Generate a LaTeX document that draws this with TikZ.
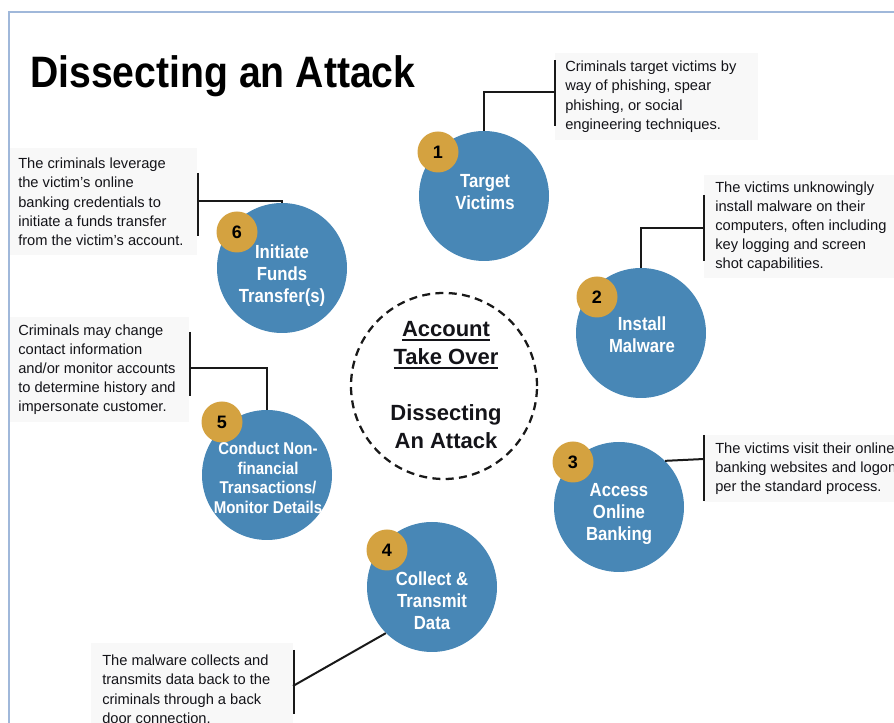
\documentclass[tikz,border=0pt]{standalone}
\usepackage{fontspec}
\setmainfont{Liberation Sans}
\newfontfamily\narrowfont[FakeStretch=0.88]{Liberation Sans}
\newfontfamily\titlefont[FakeStretch=0.89]{Liberation Sans}
\newcommand\ulword[1]{\setbox0=\hbox{#1}\rlap{\vrule height -2pt depth 3.4pt width \wd0}\box0}
\usetikzlibrary{calc}
\definecolor{stepblue}{RGB}{72,135,182}
\definecolor{badgegold}{RGB}{212,162,64}
\definecolor{framecol}{RGB}{160,184,218}
\definecolor{boxgray}{RGB}{248,248,248}
\definecolor{inkcol}{RGB}{20,20,25}
\begin{document}
\begin{tikzpicture}[x=0.75pt,y=-0.75pt,
  stepcircle/.style={circle, fill=stepblue, minimum size=97.5pt, inner sep=0pt},
  badge/.style={circle, fill=badgegold, minimum size=30.75pt, inner sep=0pt, font=\fontsize{13.5}{14}\selectfont\bfseries, text=black},
  steptext/.style={align=center, text=white, font=\narrowfont\fontsize{14.25}{16.5}\selectfont\bfseries, inner sep=0pt},
  cbox/.style={fill=boxgray, inner sep=0pt, anchor=north west},
  ctext/.style={align=left, text=inkcol, font=\fontsize{11}{14.4}\selectfont, inner sep=0pt, anchor=west},
  conn/.style={draw=black!90, line width=1.5pt},
]
\useasboundingbox (0,0) rectangle (894,723);
\clip (0,0) rectangle (894,723);

% frame
\draw[framecol, line width=1.5pt] (9,723) -- (9,12) -- (894,12);

% title
\node[anchor=base west, inner sep=0pt, text=black, font=\titlefont\fontsize{33}{36}\selectfont\bfseries] (title) at (30,88) {Dissecting an Attack};

% callout boxes
\node[cbox, minimum width=152.25pt, minimum height=65.25pt] (b1) at (555,53) {};
\node[cbox, minimum width=157.5pt, minimum height=77.25pt] (b2) at (704,175) {};
\node[cbox, minimum width=157.5pt, minimum height=50.25pt] (b3) at (704,435) {};
\node[cbox, minimum width=151.5pt, minimum height=69pt] (b4) at (91,643) {};
\node[cbox, minimum width=134.25pt, minimum height=78.75pt] (b5) at (10,317) {};
\node[cbox, minimum width=140.25pt, minimum height=80.25pt] (b6) at (10,148) {};

\node[ctext] (t1) at ($(b1.west)+(10,0)$) {Criminals target victims by\\way of phishing, spear\\phishing, or social\\engineering techniques.};
\node[ctext] (t2) at ($(b2.west)+(11,0)$) {The victims unknowingly\\install malware on their\\computers, often including\\key logging and screen\\shot capabilities.};
\node[ctext] (t3) at ($(b3.west)+(11,0)$) {The victims visit their online\\banking websites and logon\\per the standard process.};
\node[ctext] (t4) at ($(b4.west)+(11,0)$) {The malware collects and\\transmits data back to the\\criminals through a back\\door connection.};
\node[ctext] (t5) at ($(b5.west)+(8,0)$) {Criminals may change\\contact information\\and/or monitor accounts\\to determine history and\\impersonate customer.};
\node[ctext] (t6) at ($(b6.west)+(8,0)$) {The criminals leverage\\the victim's online\\banking credentials to\\initiate a funds transfer\\from the victim's account.};

% step circles
\node[stepcircle] (c1) at (484,196) {};
\node[stepcircle] (c2) at (641,333) {};
\node[stepcircle] (c3) at (619,507) {};
\node[stepcircle] (c4) at (432,587) {};
\node[stepcircle] (c5) at (267,475) {};
\node[stepcircle] (c6) at (282,268) {};

% badges
\node[badge] (n1) at (438,152) {1};
\node[badge] (n2) at (597,297) {2};
\node[badge] (n3) at (573,462) {3};
\node[badge] (n4) at (387,550) {4};
\node[badge] (n5) at (222,422) {5};
\node[badge] (n6) at (237,232) {6};

% step texts
\node[steptext] (s1) at (485,192) {Target\\Victims};
\node[steptext] (s2) at (642,335) {Install\\Malware};
\node[steptext] (s3) at (619,514) {Access\\Online\\Banking};
\node[steptext] (s4) at (432,601) {Collect \&\\Transmit\\Data};
\node[steptext, font=\narrowfont\fontsize{12.8}{14.6}\selectfont\bfseries] (s5) at (268,478) {Conduct Non-\\financial\\Transactions/\\Monitor Details};
\node[steptext] (s6) at (282,276) {Initiate\\Funds\\Transfer(s)};

% hub
\node[circle, draw=black!90, line width=1.7pt, dash pattern=on 6pt off 4pt, minimum size=139.5pt, inner sep=0pt] (hub) at (444,386) {};
\node[align=center, inner sep=0pt, text=inkcol, font=\fontsize{16.5}{21}\selectfont\bfseries] (hubtext) at (446,385) {\ulword{Account}\\\ulword{Take Over}\\[21pt]Dissecting\\An Attack};

% brackets
\draw[conn] ($(b1.north west)+(0,7)$) -- ($(b1.south west)+(0,-15)$);
\draw[conn] ($(b2.north west)+(0,20)$) -- ($(b2.south west)+(0,-18)$);
\draw[conn] ($(b3.north west)+(0,0)$) -- ($(b3.south west)+(0,-2)$);
\draw[conn] ($(b4.north east)+(0,7)$) -- ($(b4.south east)+(0,-22)$);
\draw[conn] ($(b5.north east)+(0,15)$) -- ($(b5.south east)+(0,-27)$);
\draw[conn] ($(b6.north east)+(0,25)$) -- ($(b6.south east)+(0,-20)$);

% connectors
\coordinate (k1) at (555,92);
\coordinate (k2) at (704,228);
\coordinate (k3) at (704,459);
\coordinate (k4) at (293,686);
\coordinate (k5) at (189,368);
\coordinate (k6) at (197,201);
\draw[conn] (c1.north) |- (k1);
\draw[conn] (c2.north) |- (k2);
\draw[conn] (c3.45) -- (k3);
\draw[conn] (k4) -- (c4.225);
\draw[conn] (c5.north) |- (k5);
\draw[conn] (c6.north) |- (k6);
\end{tikzpicture}
\end{document}
